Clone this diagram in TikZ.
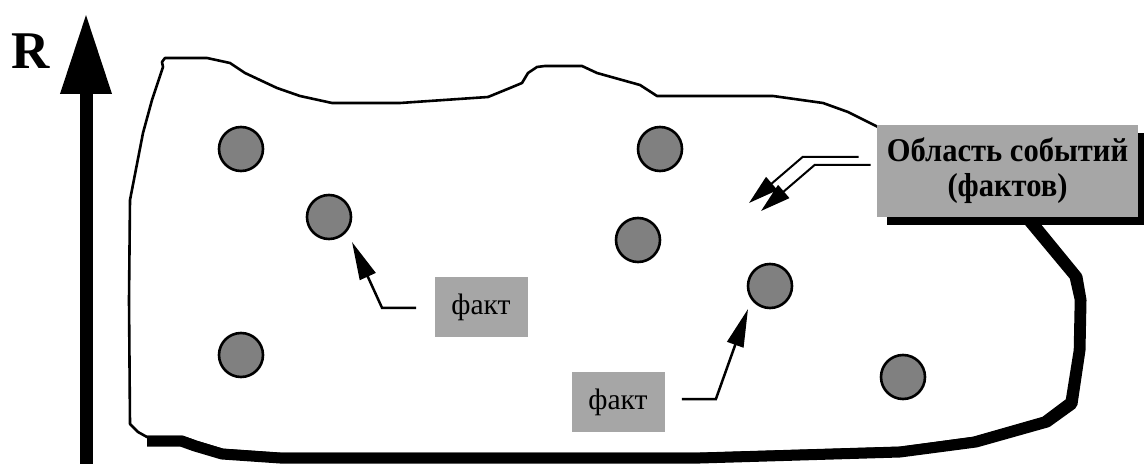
\documentclass[tikz,border=0pt]{standalone}
\usepackage{fontspec}
\setmainfont{Liberation Serif}
\newfontfamily\captionfont{Liberation Serif}[FakeStretch=0.92]
\usetikzlibrary{arrows.meta, shadows}

\tikzset{
  fact/.style={circle, draw=black, line width=1.3pt, fill=gray, minimum size=22pt, inner sep=0pt},
  factlabel/.style={fill=gray!70, minimum width=46.5pt, minimum height=30pt, inner sep=0pt,
    font=\fontsize{14.8}{16}\selectfont},
  pointer/.style={line width=1.25pt, -{Triangle[length=19pt, width=8.5pt]}},
  twin/.style={line width=1pt, -{Triangle[length=15pt, width=8.5pt]}},
  area/.style={fill=gray!70, minimum width=130.5pt, minimum height=46pt, inner sep=0pt,
    align=center, font=\captionfont\fontsize{16.6}{17.5}\selectfont\bfseries,
    drop shadow={shadow xshift=5pt, shadow yshift=-4pt, fill=black, opacity=1}},
}

\begin{document}
\begin{tikzpicture}[x=0.5pt, y=-0.5pt]
    \useasboundingbox (0,0) rectangle (1144,464);

    % axis R
    \coordinate (axis bottom) at (86,464);
    \coordinate (axis top) at (86,13);
    \draw[line width=6.5pt, -{Triangle[length=40.5pt, width=24pt]}] (axis bottom) -- (axis top);
    \node[font=\fontsize{26.5}{28}\selectfont\bfseries] (rlabel) at (31,51) {R};

    % the region: thin outline
    \draw[line width=1.3pt, line join=round]
      (165,58) -- (207,58) -- (230,63) -- (245,73) -- (277,88) -- (300,96) -- (332,103)
      -- (400,103) -- (488,97) -- (510,88) -- (522,83) -- (528,73) -- (537,67) -- (545,66)
      -- (582,66) -- (597,73) -- (640,85) -- (657,96) -- (773,96) -- (823,103) -- (848,112)
      -- (880,128) -- (990,190) -- (1026,224) -- (1071,278) -- (1076,300) -- (1075,350)
      -- (1067,400) -- (1043,418) -- (973,438) -- (900,448) -- (700,454) -- (280,454)
      -- (223,450) -- (197,442) -- (183,437) -- (147,437) -- (138,432) -- (130,424)
      -- (129,300) -- (130,200) -- (143,133) -- (152,100) -- (163,67) -- (162,62) -- cycle;
    % ... and its heavy lower-right edge
    \draw[line width=5.5pt, line join=round]
      (1000,190) -- (1032,222) -- (1077,277) -- (1081,300) -- (1080,350) -- (1072,404)
      -- (1047,422) -- (976,442) -- (900,452) -- (700,458) -- (280,458) -- (222,454)
      -- (195,446) -- (181,441) -- (147,441);

    % facts
    \node[fact] (f1) at (241,149) {};
    \node[fact] (f2) at (660,149) {};
    \node[fact] (f3) at (329,217) {};
    \node[fact] (f4) at (638,240) {};
    \node[fact] (f5) at (770,286) {};
    \node[fact] (f6) at (241,355) {};
    \node[fact] (f7) at (903,377) {};

    \node[factlabel] (fact1) at (481,307) {факт};
    \node[factlabel] (fact2) at (618,402) {факт};

    \draw[pointer] ([shift={(-18,1)}]fact1.west) -- ++(-34,0) -- ([shift={(23,25)}]f3.center);
    \draw[pointer] ([shift={(17,-3)}]fact2.east) -- ++(34,0) -- ([shift={(-22,23)}]f5.center);

    % region caption
    \node[area] (area) at (1007.5,171) {Область событий\\(фактов)};
    \coordinate (tip a) at (749,203);
    \coordinate (tip b) at (761,211);
    \draw[twin] ([shift={(-18,-14)}]area.west) -- ++(-56,0) -- (tip a);
    \draw[twin] ([shift={(-6,-6)}]area.west) -- ++(-56,0) -- (tip b);
\end{tikzpicture}
\end{document}
